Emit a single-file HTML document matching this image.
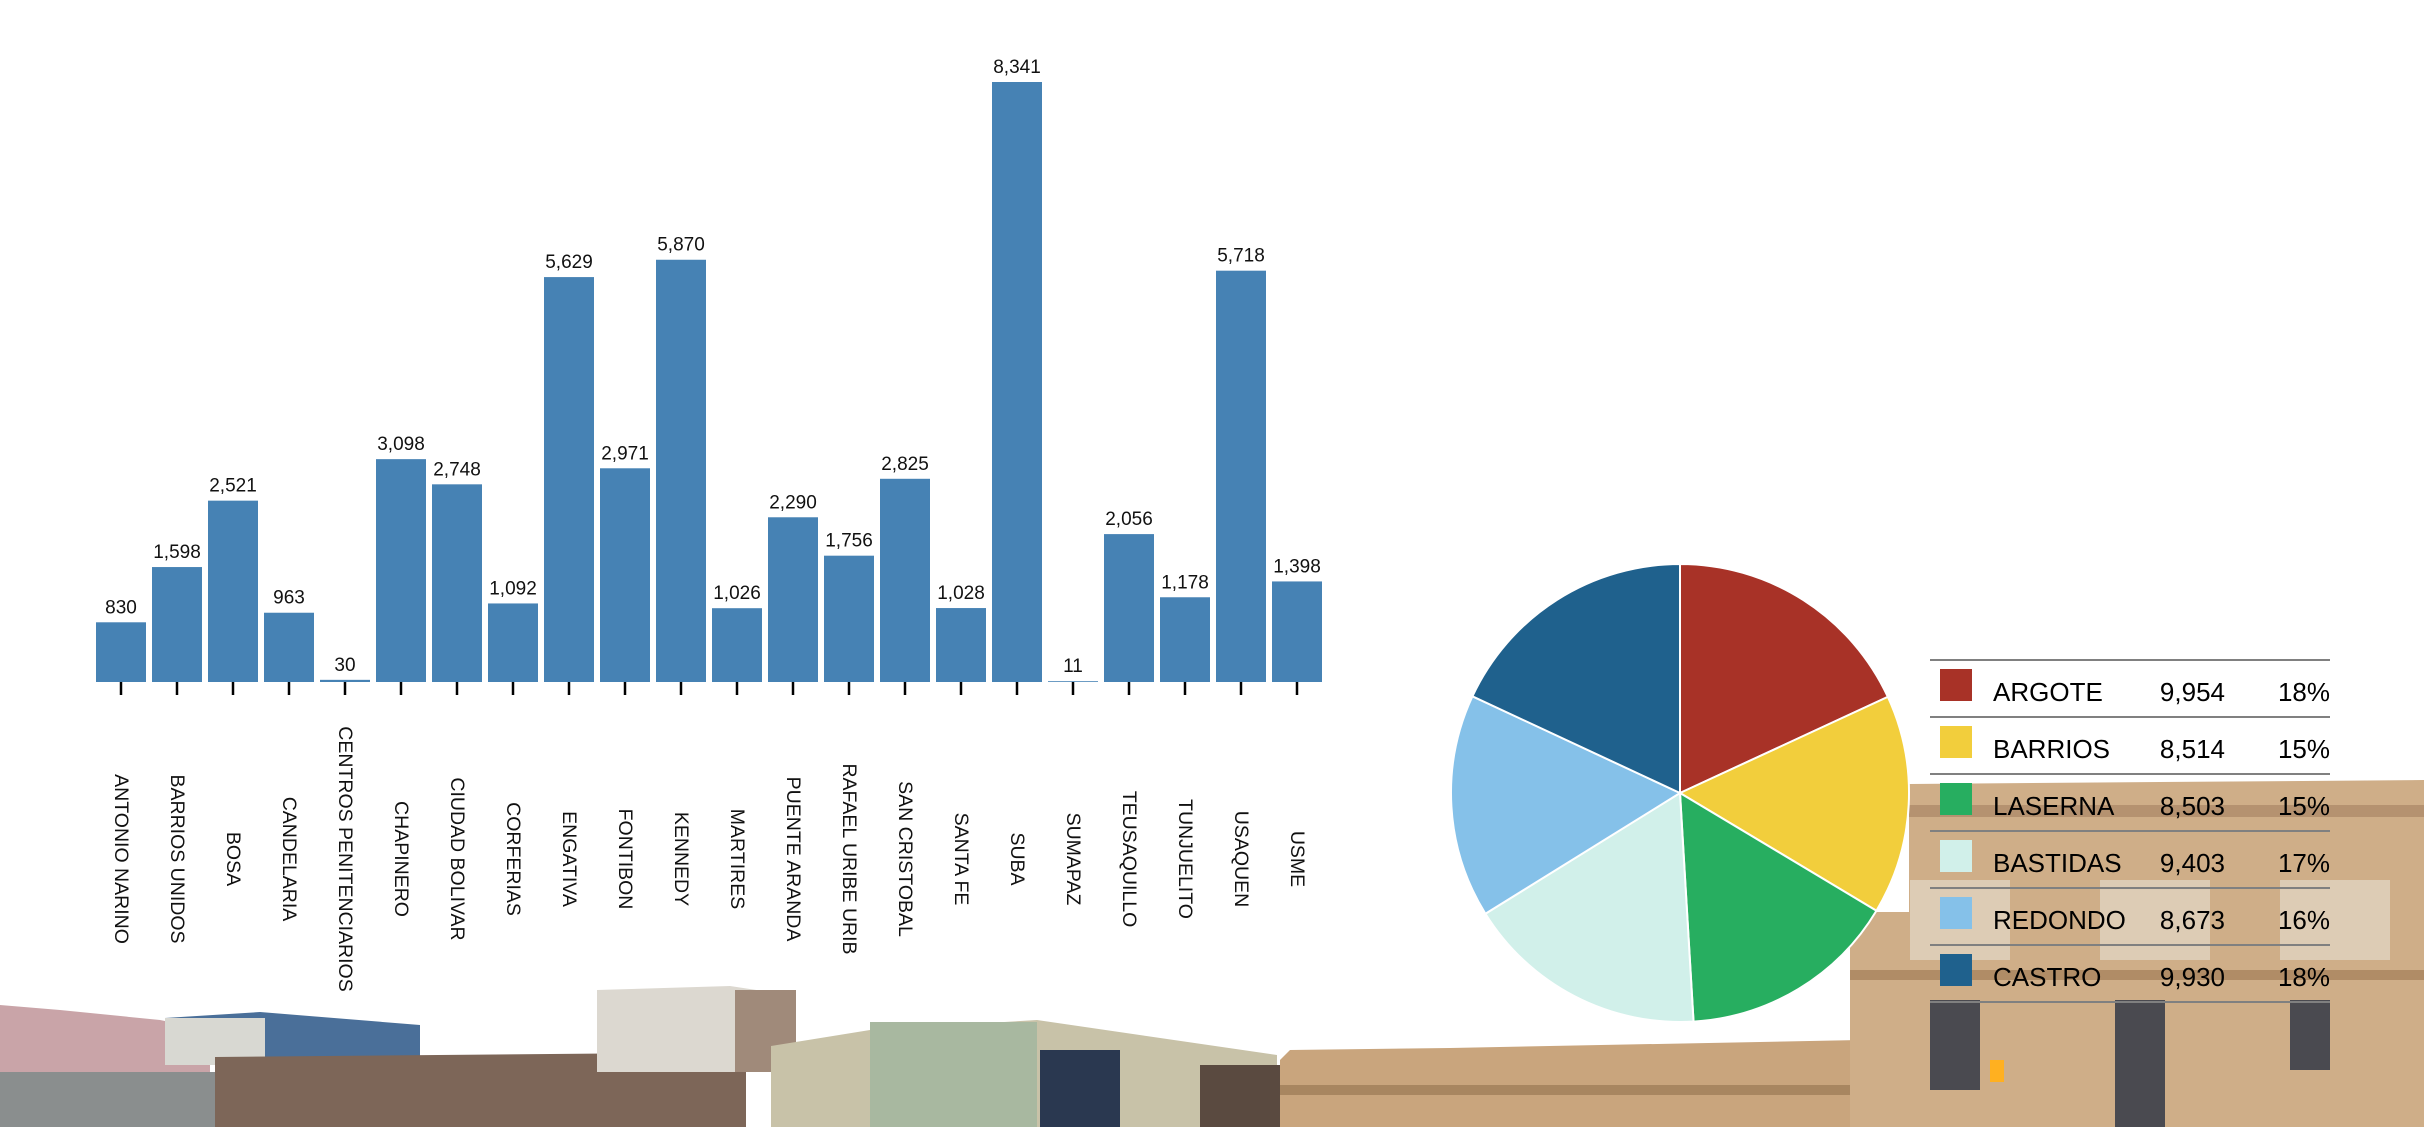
<!DOCTYPE html>
<html><head><meta charset="utf-8"><style>
html,body{margin:0;padding:0;background:#fff;}
svg{display:block;font-family:"Liberation Sans",Arial,sans-serif;}
</style></head><body>
<svg id="chart" width="2424" height="1127" viewBox="0 0 2424 1127" xmlns="http://www.w3.org/2000/svg">
<g id="bg">
  <polygon points="0,1005 60,1010 160,1020 210,1030 210,1127 0,1127" fill="#c9a4a8"/>
  <rect x="0" y="1072" width="330" height="55" fill="#8a8e8e"/>
  <polygon points="165,1018 260,1012 420,1025 420,1062 165,1065" fill="#4a6f99"/>
  <rect x="165" y="1018" width="100" height="47" fill="#d8d8d2"/>
  <polygon points="215,1057 660,1053 746,1070 746,1127 215,1127" fill="#7d6658"/>
  <polygon points="597,990 730,986 796,996 796,1072 597,1072" fill="#dcd8d0"/>
  <rect x="735" y="990" width="61" height="82" fill="#a08a7a"/>
  <polygon points="771,1046 870,1030 1037,1020 1277,1055 1277,1127 771,1127" fill="#c8c2a8"/>
  <rect x="870" y="1022" width="167" height="105" fill="#a8b8a0"/>
  <rect x="1040" y="1050" width="80" height="77" fill="#2a3850"/>
  <rect x="1200" y="1065" width="90" height="62" fill="#5a4a40"/>
  <polygon points="1280,1060 1290,1050 1450,1048 1860,1040 1860,1127 1280,1127" fill="#c9a57d"/>
  <rect x="1280" y="1085" width="580" height="10" fill="#a88660"/>
  <polygon points="1850,912 1909,912 1909,784 2424,780 2424,1127 1850,1127" fill="#cfae88"/>
  <rect x="1909" y="805" width="515" height="12" fill="#b59270"/>
  <rect x="1850" y="970" width="574" height="10" fill="#b08c66"/>
  <rect x="1910" y="880" width="100" height="80" fill="#ddccb5"/>
  <rect x="2100" y="880" width="110" height="80" fill="#ddccb5"/>
  <rect x="2280" y="880" width="110" height="80" fill="#ddccb5"/>
  <rect x="1930" y="1000" width="50" height="90" fill="#4a4a50"/>
  <rect x="2115" y="1000" width="50" height="127" fill="#4a4a50"/>
  <rect x="2290" y="1000" width="40" height="70" fill="#4a4a50"/>
  <rect x="1990" y="1060" width="14" height="22" fill="#ffb020"/>
</g>
<g id="bars"></g>
<g id="pie"></g>
<g id="legend"></g>
</svg>
<script>
const categories=["ANTONIO NARINO","BARRIOS UNIDOS","BOSA","CANDELARIA","CENTROS PENITENCIARIOS","CHAPINERO","CIUDAD BOLIVAR","CORFERIAS","ENGATIVA","FONTIBON","KENNEDY","MARTIRES","PUENTE ARANDA","RAFAEL URIBE URIB","SAN CRISTOBAL","SANTA FE","SUBA","SUMAPAZ","TEUSAQUILLO","TUNJUELITO","USAQUEN","USME"];
const values=[830,1598,2521,963,30,3098,2748,1092,5629,2971,5870,1026,2290,1756,2825,1028,8341,11,2056,1178,5718,1398];
const pieNames=["ARGOTE","BARRIOS","LASERNA","BASTIDAS","REDONDO","CASTRO"];
const pieValues=[9954,8514,8503,9403,8673,9930];
const pieColors=["#A83227","#F2CE3C","#27AE60","#D1F0EA","#85C1E9","#1F618D"];
const NS="http://www.w3.org/2000/svg";
function mk(t,a,p){const e=document.createElementNS(NS,t);for(const k in a)e.setAttribute(k,a[k]);p.appendChild(e);return e;}
const fmt=v=>v.toLocaleString("en-US");
const base=682,top0=82,x0=96,step=56,bw=50;
const maxV=Math.max(...values);
const y=v=>base-(v/maxV)*(base-top0);
const xc=i=>x0+i*step+bw/2;
const gb=document.getElementById("bars");
values.forEach((v,i)=>{
  const r=mk("rect",{x:xc(i)-bw/2,y:y(v),width:bw,height:base-y(v),fill:"#4682B4"},gb);
  
  
  const t=mk("text",{x:xc(i),y:y(v)-9,"text-anchor":"middle","font-size":19,fill:"#111"},gb);
  t.textContent=fmt(v);
  
  
  const tk=mk("line",{x1:xc(i),x2:xc(i),y1:base,y2:base+13,stroke:"#000","stroke-width":2.5},gb);
  
  
  const l=mk("text",{x:0,y:0,"text-anchor":"middle","font-size":19.5,fill:"#111",transform:`translate(${xc(i)-6},859) rotate(90)`},gb);
  l.textContent=categories[i];
  
  
});
const cx=1680,cy=793,R=229;
const total=pieValues.reduce((a,b)=>a+b,0);
const gp=document.getElementById("pie");
let a0=-Math.PI/2;
pieValues.forEach((v,i)=>{
  const a1=a0+v/total*2*Math.PI;
  const p=`M${cx},${cy}L${cx+R*Math.cos(a0)},${cy+R*Math.sin(a0)}A${R},${R} 0 ${a1-a0>Math.PI?1:0} 1 ${cx+R*Math.cos(a1)},${cy+R*Math.sin(a1)}Z`;
  const s=mk("path",{d:p,fill:pieColors[i],stroke:"#fff","stroke-width":2},gp);
  
  
  a0=a1;
});
const gl=document.getElementById("legend");
const ly0=660,lstep=57;
for(let i=0;i<=pieNames.length;i++){
  const ln=mk("line",{x1:1930,x2:2330,y1:ly0+i*lstep,y2:ly0+i*lstep,stroke:"#808080","stroke-width":2},gl);
  
  
}
pieNames.forEach((n,i)=>{
  const yy=ly0+i*lstep;
  const sw=mk("rect",{x:1940,y:yy+9,width:32,height:32,fill:pieColors[i]},gl);
  
  
  const t1=mk("text",{x:1993,y:yy+41,"font-size":26,fill:"#000"},gl);
  t1.textContent=n;
  
  
  const t2=mk("text",{x:2225,y:yy+41,"font-size":26,fill:"#000","text-anchor":"end"},gl);
  t2.textContent=fmt(pieValues[i]);
  
  
  const t3=mk("text",{x:2330,y:yy+41,"font-size":26,fill:"#000","text-anchor":"end"},gl);
  t3.textContent=Math.round(pieValues[i]/total*100)+"%";
  
  
});
</script>
</body></html>
